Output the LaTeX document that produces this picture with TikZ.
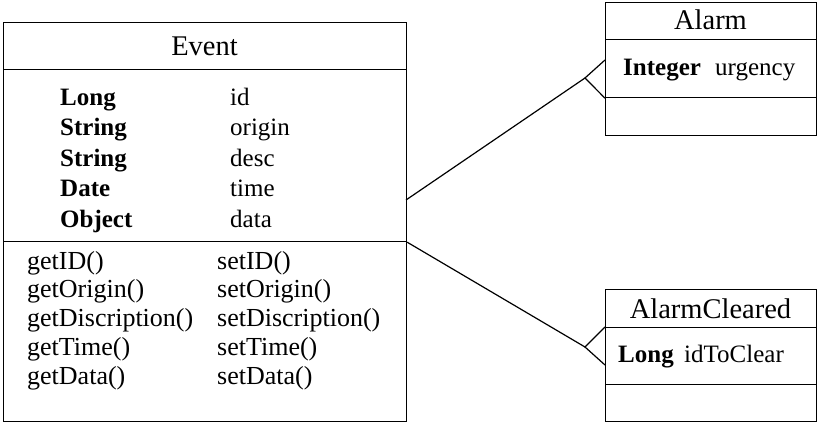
\documentclass[tikz,border=0pt]{standalone}
\usepackage{fontspec}
\setmainfont{Liberation Serif}
\begin{document}
\begin{tikzpicture}[x=1pt,y=-1pt,
  compart/.style={draw, line width=1.2pt, inner sep=0pt, anchor=north west},
  titletext/.style={anchor=base, inner sep=0pt, font=\fontsize{28.5}{30}\selectfont},
  typetext/.style={anchor=base west, inner sep=0pt, font=\fontsize{25}{27}\selectfont\bfseries},
  bodytext/.style={anchor=base west, inner sep=0pt, font=\fontsize{25}{27}\selectfont},
  optext/.style={anchor=base west, inner sep=0pt, font=\fontsize{26}{28}\selectfont},
  link/.style={line width=1.2pt}]
\useasboundingbox (0,0) rectangle (817,423);

% ---- class Event ----
\node[compart, minimum width=403pt, minimum height=47pt]  (evTitle) at (3,22)  {};
\node[compart, minimum width=403pt, minimum height=172pt] (evAttrs) at (3,69)  {};
\node[compart, minimum width=403pt, minimum height=180pt] (evOps)   at (3,241) {};
\node[titletext] (evName) at (204.5,55) {Event};

\node[typetext] (t1) at (60,105)   {Long};
\node[typetext] (t2) at (60,135.5) {String};
\node[typetext] (t3) at (60,166)   {String};
\node[typetext] (t4) at (60,196.5) {Date};
\node[typetext] (t5) at (60,227)   {Object};
\node[bodytext] (n1) at (230,105)   {id};
\node[bodytext] (n2) at (230,135.5) {origin};
\node[bodytext] (n3) at (230,166)   {desc};
\node[bodytext] (n4) at (230,196.5) {time};
\node[bodytext] (n5) at (230,227)   {data};

\node[optext] (g1) at (27,269)    {getID()};
\node[optext] (g2) at (27,297.75) {getOrigin()};
\node[optext] (g3) at (27,326.5)  {getDiscription()};
\node[optext] (g4) at (27,355.25) {getTime()};
\node[optext] (g5) at (27,384)    {getData()};
\node[optext] (s1) at (217,269)    {setID()};
\node[optext] (s2) at (217,297.75) {setOrigin()};
\node[optext] (s3) at (217,326.5)  {setDiscription()};
\node[optext] (s4) at (217,355.25) {setTime()};
\node[optext] (s5) at (217,384)    {setData()};

% ---- class Alarm ----
\node[compart, minimum width=211pt, minimum height=37pt] (alTitle) at (605,2)  {};
\node[compart, minimum width=211pt, minimum height=58pt] (alAttrs) at (605,39) {};
\node[compart, minimum width=211pt, minimum height=38pt] (alOps)   at (605,97) {};
\node[titletext] (alName) at (710.5,30) {Alarm};
\node[typetext] (alType) at (623,75) {Integer};
\node[bodytext] (alVar)  at (715,75) {urgency};

% ---- class AlarmCleared ----
\node[compart, minimum width=211pt, minimum height=38pt] (acTitle) at (605,289) {};
\node[compart, minimum width=211pt, minimum height=57pt] (acAttrs) at (605,327) {};
\node[compart, minimum width=211pt, minimum height=37pt] (acOps)   at (605,384) {};
\node[titletext] (acName) at (710.5,318) {AlarmCleared};
\node[typetext] (acType) at (618,362) {Long};
\node[bodytext] (acVar)  at (684,362) {idToClear};

% ---- associations with crow's feet ----
\coordinate (evA) at (406,200);
\coordinate (footA) at (585,78);
\coordinate (prongA) at (605,60);
\draw[link] (evA) -- (footA);
\draw[link] (prongA) -- (footA) -- (alAttrs.south west);

\coordinate (footC) at (585,347);
\coordinate (prongC) at (605,365);
\draw[link] (evAttrs.south east) -- (footC);
\draw[link] (acAttrs.north west) -- (footC) -- (prongC);
\end{tikzpicture}
\end{document}
